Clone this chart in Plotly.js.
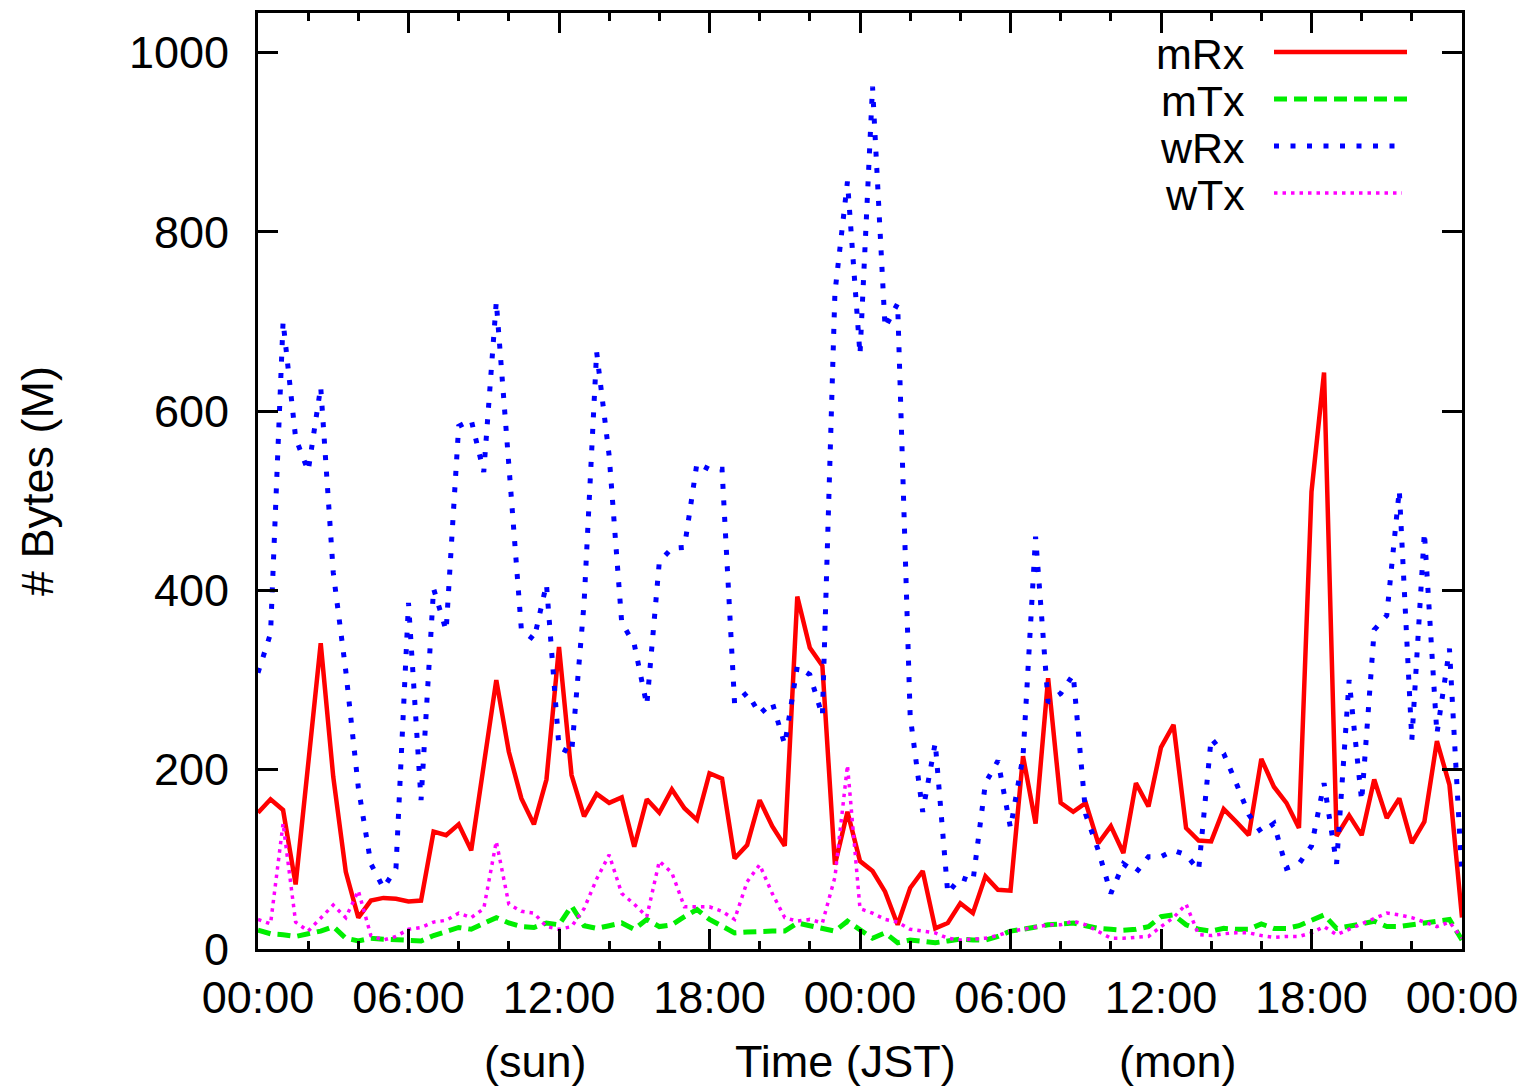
<!DOCTYPE html>
<html>
<head>
<meta charset="utf-8">
<script src="https://cdn.plot.ly/plotly-3.0.1.min.js"></script>
<style>html,body{margin:0;padding:0;background:#fff;}#chart{width:1528px;height:1089px;}</style>
</head>
<body>
<div id="chart"></div>
<script>
// Samples every 30 minutes over 48 hours (Sat 00:00 -> Mon 24:00 JST)
const STEP_HOURS = 0.5;
const seriesNames = ["mRx", "mTx", "wRx", "wTx"];
const mRx = [152,167,155,72,206,341,192,86,35,54,
             57,56,53,54,131,127,139,110,205,300,
             220,168,139,189,337,194,148,173,163,169,
             114,167,152,178,157,144,196,190,101,116,
             166,137,115,393,336,316,94,153,98,87,
             64,27,68,87,23,29,51,40,81,66,
             65,215,140,302,163,153,163,118,137,107,
             185,159,225,250,135,121,120,156,142,127,
             212,181,163,135,510,643,126,149,127,189,
             146,168,118,142,232,183,35];
const mTx = [21,17,16,14,17,20,25,12,9,12,
             11,10,9,9,15,20,24,22,28,35,
             29,25,24,29,27,48,26,23,26,29,
             22,33,25,27,36,44,33,25,18,19,
             20,20,20,29,26,23,20,31,22,12,
             18,7,10,9,7,9,11,10,10,14,
             20,22,25,27,28,29,26,23,22,21,
             22,25,36,38,27,22,20,23,22,22,
             28,23,23,26,32,38,23,25,28,31,
             25,25,27,28,31,33,10];
const wRx = [308,352,700,570,533,627,420,310,180,95,
             68,90,386,166,402,355,583,590,532,722,
             540,356,345,407,225,218,386,666,550,364,
             340,272,432,447,448,542,535,535,274,286,
             262,275,228,315,306,260,732,856,663,962,
             693,720,260,153,230,62,80,75,185,210,
             135,215,460,275,285,306,150,110,62,95,
             85,103,103,110,105,88,235,218,185,150,
             130,140,90,95,115,185,95,300,165,356,
             372,512,233,465,240,335,80];
const wTx = [33,28,140,30,20,35,49,35,65,15,
             10,14,22,24,30,32,40,35,45,120,
             50,42,40,25,22,25,45,78,105,62,
             50,36,98,85,47,47,47,42,33,75,
             94,62,35,31,33,29,80,205,45,40,
             33,30,22,20,18,12,10,11,12,15,
             20,22,25,27,27,31,27,20,12,12,
             13,14,25,35,50,16,15,17,18,18,
             15,13,14,14,18,25,16,22,28,33,
             40,38,35,30,25,30,12];
const xTickVals = [0,6,12,18,24,30,36,42,48];
const xTickText = ["00:00","06:00","12:00","18:00","00:00","06:00","12:00","18:00","00:00"];
const xMinorVals = [0,2,4,6,8,10,12,14,16,18,20,22,24,26,28,30,32,34,36,38,40,42,44,46,48];
const yTickVals = [0,200,400,600,800,1000];
const xTitleParts = ["(sun)", "Time (JST)", "(mon)"];
const yTitle = "# Bytes (M)";

const hours = mRx.map((_, i) => i * STEP_HOURS);

const styles = {
  mRx: {color: "#ff0000", width: 4.5, dash: "solid"},
  mTx: {color: "#00ee00", width: 5, dash: "13px,7px"},
  wRx: {color: "#0000ff", width: 5, dash: "5px,11.5px"},
  wTx: {color: "#ff00ff", width: 3.5, dash: "3.5px,5px"}
};
const values = {mRx, mTx, wRx, wTx};

const traces = seriesNames.map(n => ({
  type: "scatter", mode: "lines", name: n,
  x: hours, y: values[n],
  line: Object.assign({}, styles[n]),
  showlegend: false, hoverinfo: "x+y+name"
}));

const FONT = "Liberation Sans, Arial, Helvetica, sans-serif";
const FS = 45;
const KEY_FS = 43;
const W = 1528, H = 1089, L = 258, R = 66, T = 13, B = 140;
const pw = W - L - R, ph = H - T - B;
const px = v => (v - L) / pw;
const py = v => (H - B - v) / ph;

// gnuplot-style key (text left, sample right)
const legendRows = [52, 99, 146, 193];
const legendEnds = [1407, 1407, 1397, 1402];
const annotations = [];
const shapes = [];
seriesNames.forEach((n, k) => {
  annotations.push({xref: "paper", yref: "paper", x: px(1246), y: py(legendRows[k] + 2),
    xanchor: "right", yanchor: "middle", text: n, showarrow: false, borderpad: 0,
    font: {family: FONT, size: KEY_FS, color: "#000"}});
  shapes.push({type: "line", xref: "paper", yref: "paper",
    x0: px(1274), x1: px(legendEnds[k]), y0: py(legendRows[k]), y1: py(legendRows[k]),
    line: {color: styles[n].color, width: styles[n].width, dash: styles[n].dash}});
});
// x axis label, laid out like the original single-string xlabel
const xTitleX = [535, 845, 1178];
xTitleParts.forEach((t, k) => {
  annotations.push({xref: "paper", yref: "paper", x: px(xTitleX[k]), y: py(1061),
    xanchor: "center", yanchor: "middle", text: t, showarrow: false,
    font: {family: FONT, size: FS, color: "#000"}});
});

const layout = {
  width: W, height: H,
  margin: {l: L, r: R, t: T, b: B, pad: 0},
  paper_bgcolor: "#fff", plot_bgcolor: "#fff",
  font: {family: FONT, size: FS, color: "#000"},
  xaxis: {
    range: [0, 48], showgrid: false, zeroline: false,
    showline: true, linecolor: "#000", linewidth: 3, mirror: "ticks",
    ticks: "inside", ticklen: 20, tickwidth: 3, tickcolor: "#000",
    tickvals: xTickVals, ticktext: xTickText, ticklabelstandoff: 7,
    minor: {tickvals: xMinorVals, ticks: "inside", ticklen: 8, tickwidth: 3, tickcolor: "#000", showgrid: false}
  },
  yaxis: {
    range: [0, 1044], showgrid: false, zeroline: false,
    showline: true, linecolor: "#000", linewidth: 3, mirror: "ticks",
    ticks: "inside", ticklen: 20, tickwidth: 3, tickcolor: "#000",
    tickvals: yTickVals, ticklabelstandoff: 17,
    title: {text: yTitle, standoff: 62, font: {family: FONT, size: FS}}
  },
  annotations: annotations,
  shapes: shapes,
  showlegend: false
};

Plotly.newPlot("chart", traces, layout, {displayModeBar: false, staticPlot: true});
</script>
</body>
</html>
